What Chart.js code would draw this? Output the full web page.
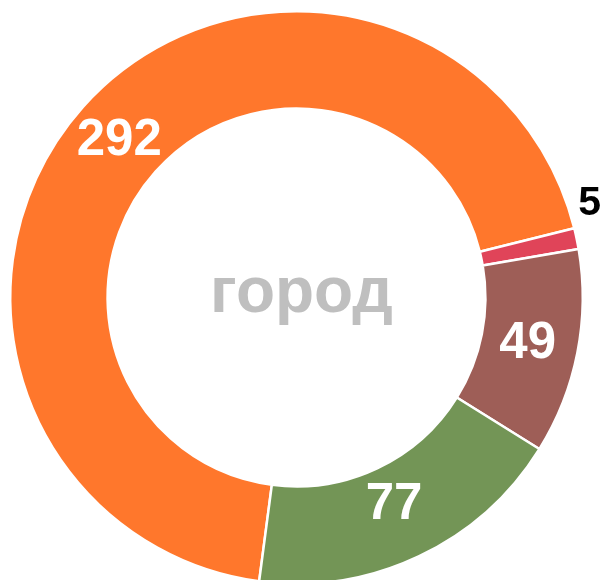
<!DOCTYPE html>
<html>
<head>
<meta charset="utf-8">
<script src="https://cdn.jsdelivr.net/npm/chart.js@4/dist/chart.umd.min.js"></script>
<style>
html,body{margin:0;padding:0;background:#fff;overflow:hidden;width:603px;height:580px;}
#wrap{position:absolute;left:0;top:0;width:603px;height:585px;}
</style>
</head>
<body>
<div id="wrap"><canvas id="c" width="603" height="585"></canvas></div>
<script>
const categories = ['A', 'B', 'C', 'D'];
const values = [292, 5, 49, 77];
const colors = ['#FF772C', '#E04459', '#9E5E57', '#739556'];
const centerLabel = 'город';

const labelPlugin = {
  id: 'sliceLabels',
  afterDraw(chart) {
    const ctx = chart.ctx;
    const meta = chart.getDatasetMeta(0);
    const total = values.reduce((a, b) => a + b, 0);
    ctx.save();
    meta.data.forEach((arc, i) => {
      const p = arc.getProps(['x', 'y', 'startAngle', 'endAngle', 'innerRadius', 'outerRadius'], true);
      const mid = (p.startAngle + p.endAngle) / 2;
      const txt = String(values[i]);
      if (values[i] / total < 0.03) {
        const ax = p.x + Math.cos(mid) * p.outerRadius;
        const ay = p.y + Math.sin(mid) * p.outerRadius;
        ctx.font = 'bold 41px "Liberation Sans", Arial, sans-serif';
        ctx.fillStyle = '#000';
        ctx.textAlign = 'center';
        ctx.textBaseline = 'alphabetic';
        ctx.fillText(txt, ax + 13, ay - 38 + 41 * 0.358);
      } else {
        // label sits at mid-ring; lower slices are pulled slightly inward
        const r = (p.innerRadius + p.outerRadius) / 2 - Math.max(0, Math.sin(mid)) * 10;
        const x = p.x + Math.cos(mid) * r;
        const y = p.y + Math.sin(mid) * r - 3;
        ctx.font = 'bold 51px "Liberation Sans", Arial, sans-serif';
        ctx.fillStyle = '#fff';
        ctx.textAlign = 'center';
        ctx.textBaseline = 'alphabetic';
        ctx.fillText(txt, x, y + 51 * 0.358);
      }
    });
    ctx.font = 'bold 64px "Liberation Sans", Arial, sans-serif';
    ctx.fillStyle = '#BFBFBF';
    ctx.textAlign = 'center';
    ctx.textBaseline = 'alphabetic';
    ctx.fillText(centerLabel, chart.width / 2, 312);
    ctx.restore();
  }
};

new Chart(document.getElementById('c'), {
  type: 'doughnut',
  data: {
    labels: categories,
    datasets: [{
      data: values,
      backgroundColor: colors,
      borderColor: '#fff',
      borderWidth: 2.5
    }]
  },
  options: {
    responsive: false,
    animation: false,
    rotation: 187.5,
    cutout: '66%',
    layout: { padding: { left: 9, right: 19, top: 10, bottom: 0 } },
    plugins: { legend: { display: false }, tooltip: { enabled: false } }
  },
  plugins: [labelPlugin]
});
</script>
</body>
</html>
